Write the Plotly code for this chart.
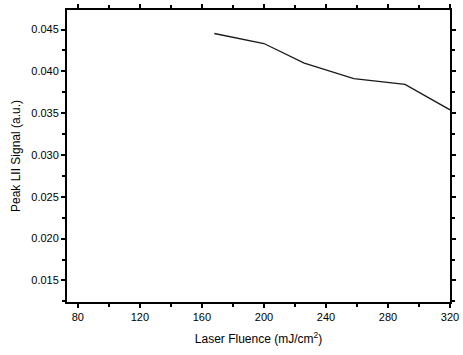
import plotly.graph_objects as go

fluence = [168, 200, 226, 258, 291, 320]
signal = [0.04453, 0.04333, 0.04098, 0.03914, 0.03844, 0.0354]

x_range = [73, 320]
y_range = [0.01242, 0.04734]
x_ticks = [80, 120, 160, 200, 240, 280, 320]
y_ticks = [0.015, 0.020, 0.025, 0.030, 0.035, 0.040, 0.045]

FONT = "Liberation Sans, Arial, sans-serif"

fig = go.Figure()
fig.add_trace(go.Scatter(x=fluence, y=signal, mode="lines",
                         line=dict(color="#1a1a1a", width=1.3),
                         showlegend=False, hoverinfo="skip"))

axis_common = dict(showgrid=False, zeroline=False, linecolor="black", linewidth=2,
                   tickcolor="black", tickwidth=1.5, showline=True, mirror="allticks")

fig.update_layout(
    width=463, height=355,
    margin=dict(l=67, r=9, t=4, b=53),
    paper_bgcolor="white", plot_bgcolor="white",
    font=dict(family=FONT, color="black", size=11),
    xaxis=dict(range=x_range, tickvals=x_ticks, ticks="outside", ticklen=4,
               ticklabeloverflow="allow",
               minor=dict(ticks="outside", ticklen=3, dtick=20, tick0=80, tickcolor="black"),
               title=dict(text="Laser Fluence (mJ/cm<sup>2</sup>)", font=dict(size=12), standoff=12),
               **axis_common),
    yaxis=dict(range=y_range, tickvals=y_ticks, tickformat=".3f", ticks="outside", ticklen=4,
               minor=dict(ticks="outside", ticklen=3, dtick=0.0025, tick0=0.015, tickcolor="black"),
               title=dict(text="Peak LII Signal (a.u.)", font=dict(size=12), standoff=8),
               **axis_common),
)

fig.write_html("out.html", config={"displayModeBar": False},
               post_script="document.body.style.margin='0';")
